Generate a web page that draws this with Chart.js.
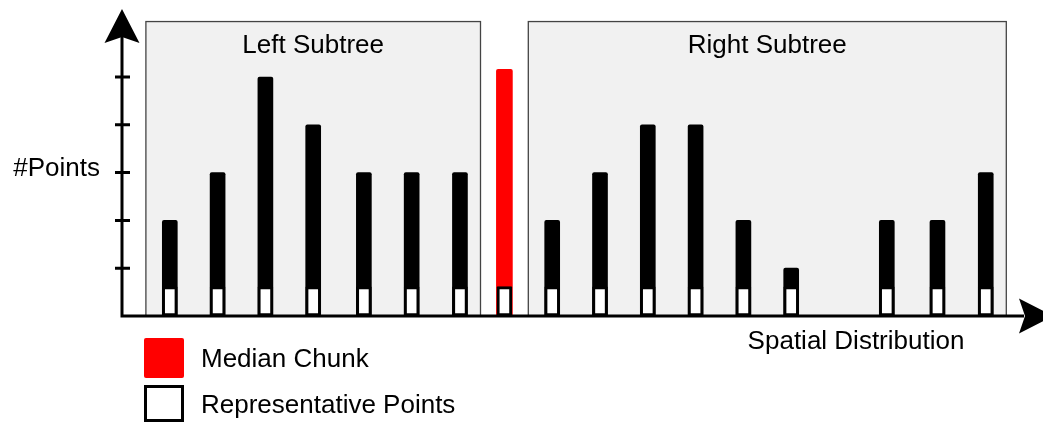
<!DOCTYPE html>
<html lang="en">
<head>
<meta charset="UTF-8">
<title>Subtree split</title>
<script src="https://cdn.jsdelivr.net/npm/chart.js"></script>
<style>
  html, body { margin: 0; padding: 0; background: #fff; }
  #wrap { width: 1043px; height: 423px; }
</style>
</head>
<body>
<div id="wrap"><canvas id="chart" width="1043" height="423"></canvas></div>
<script>
// chunk positions (slot units) and #points per chunk
const leftPositions  = [1, 2, 3, 4, 5.06, 6.06, 7.07];
const leftCounts     = [2, 3, 5, 4, 3, 3, 3];
const medianPosition = [8];
const medianCount    = [5.16];
const rightPositions = [9, 10, 11, 12, 13, 14, 16, 17.06, 18.07];
const rightCounts    = [2, 3, 4, 4, 2, 1, 2, 2, 3];
const repHeight      = 0.615;   // representative points block
const yTicks         = [1, 2, 3, 4, 5];
const subtreeNames   = ['Left Subtree', 'Right Subtree'];
const subtreeRanges  = [[0.5, 7.5], [8.5, 18.5]];
const subtreeTop     = 6.16;
const legendLabels   = ['Median Chunk', 'Representative Points'];

const FONT = '26px "Liberation Sans", Arial, sans-serif';

const toXY = (xs, ys) => xs.map((x, i) => ({ x: x, y: ys[i] }));
const allPositions = [...leftPositions, ...medianPosition, ...rightPositions];

function arrowHead(ctx, tx, ty, dx, dy) {
    // classic arrow, length 34, half width 17.5
    const len = 34, half = 17.5, notch = 6;
    const px = -dy, py = dx;
    ctx.beginPath();
    ctx.moveTo(tx, ty);
    ctx.lineTo(tx - dx * len + px * half, ty - dy * len + py * half);
    ctx.lineTo(tx - dx * (len - notch), ty - dy * (len - notch));
    ctx.lineTo(tx - dx * len - px * half, ty - dy * len - py * half);
    ctx.closePath();
    ctx.fill();
}

const decor = {
    id: 'decor',
    beforeDatasetsDraw(chart) {
        const ctx = chart.ctx, xs = chart.scales.x, ys = chart.scales.y;
        ctx.save();
        subtreeRanges.forEach((r, i) => {
            const x1 = xs.getPixelForValue(r[0]), x2 = xs.getPixelForValue(r[1]);
            const top = ys.getPixelForValue(subtreeTop), bot = ys.getPixelForValue(0);
            ctx.fillStyle = '#f1f1f1';
            ctx.fillRect(x1, top, x2 - x1, bot - top);
            ctx.strokeStyle = '#444';
            ctx.lineWidth = 1.3;
            ctx.strokeRect(x1, top, x2 - x1, bot - top);
            ctx.fillStyle = '#000';
            ctx.font = FONT;
            ctx.textAlign = 'center';
            ctx.textBaseline = 'alphabetic';
            ctx.fillText(subtreeNames[i], (x1 + x2) / 2, top + 31.5);
        });
        ctx.restore();
    },
    afterDatasetsDraw(chart) {
        const ctx = chart.ctx, xs = chart.scales.x, ys = chart.scales.y;
        const ox = xs.getPixelForValue(0), oy = ys.getPixelForValue(0);
        ctx.save();
        ctx.strokeStyle = '#000';
        ctx.fillStyle = '#000';
        ctx.lineWidth = 3;
        ctx.lineCap = 'butt';
        // axes
        ctx.beginPath();
        ctx.moveTo(ox, oy + 1.5);
        ctx.lineTo(ox, 36);
        ctx.moveTo(ox - 1.5, oy);
        ctx.lineTo(1024, oy);
        ctx.stroke();
        arrowHead(ctx, ox, 9, 0, -1);
        arrowHead(ctx, 1053, oy, 1, 0);
        // y ticks
        ctx.beginPath();
        yTicks.forEach(t => {
            const y = ys.getPixelForValue(t);
            ctx.moveTo(ox - 7, y);
            ctx.lineTo(ox + 8, y);
        });
        ctx.stroke();
        // axis titles
        ctx.font = FONT;
        ctx.textBaseline = 'alphabetic';
        ctx.textAlign = 'right';
        ctx.fillText('#Points', ox - 22, ys.getPixelForValue(3) + 3.5);
        ctx.textAlign = 'center';
        ctx.fillText('Spatial Distribution', 856, oy + 33);
        // legend
        ctx.fillStyle = '#ff0000';
        ctx.beginPath();
        ctx.roundRect(144, 338, 40, 40, 2);
        ctx.fill();
        ctx.fillStyle = '#fff';
        ctx.fillRect(145.5, 386.5, 37, 34);
        ctx.strokeRect(145.5, 386.5, 37, 34);
        ctx.fillStyle = '#000';
        ctx.textAlign = 'left';
        ctx.fillText(legendLabels[0], 201, 366.5);
        ctx.fillText(legendLabels[1], 201, 413);
        ctx.restore();
    }
};

new Chart(document.getElementById('chart'), {
    type: 'bar',
    data: {
        datasets: [
            {
                label: legendLabels[1],
                data: allPositions.map(x => ({ x: x, y: repHeight })),
                backgroundColor: '#fff',
                borderColor: '#000',
                borderWidth: 3,
                borderSkipped: false,
                borderRadius: 1,
                barThickness: 15,
                order: 0
            },
            {
                label: legendLabels[0],
                data: toXY(medianPosition, medianCount),
                backgroundColor: '#ff0000',
                borderRadius: 2,
                barThickness: 16,
                order: 1
            },
            {
                label: 'Chunks',
                data: toXY(leftPositions, leftCounts).concat(toXY(rightPositions, rightCounts)),
                backgroundColor: '#000',
                borderRadius: 2,
                barThickness: 15,
                order: 1
            }
        ]
    },
    options: {
        responsive: false,
        animation: false,
        events: [],
        layout: { padding: 0 },
        datasets: { bar: { grouped: false } },
        plugins: {
            legend: { display: false },
            tooltip: { enabled: false }
        },
        scales: {
            x: { type: 'linear', display: false, offset: false, min: -2.5523, max: 19.2678 },
            y: { display: false, min: -2.2385, max: 6.6109 }
        }
    },
    plugins: [decor]
});
</script>
</body>
</html>
